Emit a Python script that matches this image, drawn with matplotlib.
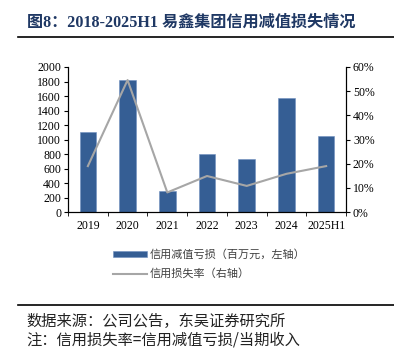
import numpy as np
import matplotlib.pyplot as plt
from matplotlib.lines import Line2D
from matplotlib.ticker import PercentFormatter

years = ['2019', '2020', '2021', '2022', '2023', '2024', '2025H1']
loss = [1110, 1820, 290, 795, 735, 1575, 1050]          # 百万元
rate = [19.0, 54.6, 8.1, 14.9, 10.8, 15.8, 19.0]       # %

serif = ['Liberation Serif', 'Noto Sans CJK SC']
cjk = ['Noto Sans CJK SC', 'DejaVu Sans']
navy = '#1F3864'

fig = plt.figure(figsize=(3.94, 3.53), dpi=100)
ax = fig.add_axes([0.1726, 0.3994, 0.7056, 0.4108])
x = np.arange(len(years))
ax.bar(x, loss, width=0.42, color='#355E94', edgecolor='#6E8FBF', linewidth=0.4,
       label='信用减值亏损（百万元，左轴）', zorder=2)
ax.set_xlim(-0.5, len(years) - 0.5)
ax.set_ylim(0, 2000)
ax.set_yticks(range(0, 2001, 200))
ax.set_xticks(x)
ax.set_xticklabels(years)
ax.set_xticks(np.arange(-0.5, len(years), 1), minor=True)
ax.tick_params(axis='x', which='major', length=0, pad=6)
ax.tick_params(axis='x', which='minor', length=3, direction='out')
ax.tick_params(axis='y', length=3, direction='out', pad=2)
for lab in ax.get_xticklabels() + ax.get_yticklabels():
    lab.set_family(serif)
    lab.set_fontsize(8.5)
ax.spines['top'].set_visible(False)

ax2 = ax.twinx()
ax2.plot(x, rate, color='#A6A6A6', lw=1.5, label='信用损失率（右轴）', zorder=3)
ax2.set_ylim(0, 60)
ax2.set_yticks(range(0, 61, 10))
ax2.yaxis.set_major_formatter(PercentFormatter(decimals=0))
ax2.tick_params(axis='y', length=3, direction='out', pad=2)
for lab in ax2.get_yticklabels():
    lab.set_family(serif)
    lab.set_fontsize(8.5)
ax2.spines['top'].set_visible(False)

# legend
h1, l1 = ax.get_legend_handles_labels()
h2, l2 = ax2.get_legend_handles_labels()
fig.legend(h1 + h2, l1 + l2, loc='upper left', bbox_to_anchor=(0.262, 0.322),
           frameon=False, prop={'family': cjk, 'size': 8, 'weight': 'light'},
           handlelength=3.0, handleheight=0.4, labelspacing=0.75,
           handletextpad=0.3, labelcolor='#404040')

# title and rules
fig.text(0.068, 0.935, '图8：2018-2025H1 易鑫集团信用减值损失情况', family=serif,
         fontsize=11.6, fontweight='bold', color=navy, va='center')
fig.add_artist(Line2D([0.046, 1.0], [0.895, 0.895], color='black', lw=1.2))
fig.add_artist(Line2D([0.046, 1.0], [0.136, 0.136], color='black', lw=1.2))
fig.text(0.068, 0.09, '数据来源：公司公告，东吴证券研究所', family=cjk,
         fontsize=11, fontweight='light', color='#222222', va='center')
fig.text(0.068, 0.036, '注：信用损失率=信用减值亏损/当期收入', family=cjk,
         fontsize=11, fontweight='light', color='#222222', va='center')

fig.savefig('out.png', dpi=100)
